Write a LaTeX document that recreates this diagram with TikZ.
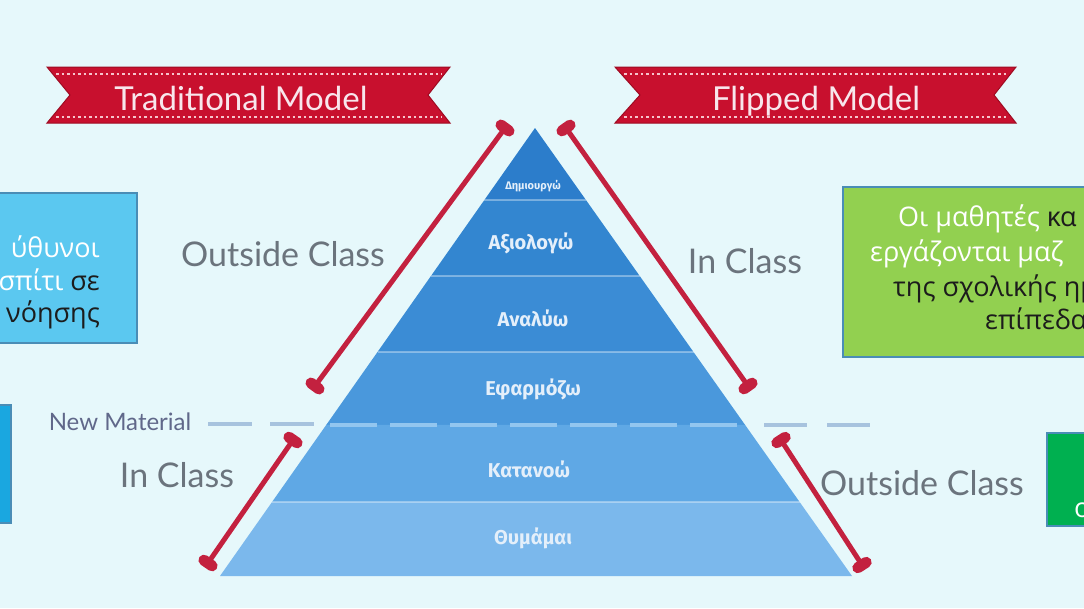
\documentclass[tikz,border=0pt]{standalone}
\usepackage{fontspec}
\setmainfont{Lato}
\newfontfamily\boxfont{Open Sans}
\newfontfamily\levelfont{Fira Sans}
\usetikzlibrary{calc}

\definecolor{paper}{HTML}{E6F8FB}
\definecolor{ribbonred}{HTML}{C8102E}
\definecolor{ribbondark}{HTML}{9E0B22}
\definecolor{stitchpink}{HTML}{F6C4CC}
\definecolor{ribbontxt}{HTML}{F8E6EC}
\definecolor{labelgray}{HTML}{6B747D}
\definecolor{bonered}{HTML}{C3213F}
\definecolor{lvA}{HTML}{2C7DCB}
\definecolor{lvB}{HTML}{3386D0}
\definecolor{lvC}{HTML}{3B8CD5}
\definecolor{lvD}{HTML}{4A98DC}
\definecolor{lvE}{HTML}{5FA8E5}
\definecolor{lvF}{HTML}{7BB8EC}
\definecolor{leveltxt}{HTML}{E4EFFA}
\definecolor{newmatblue}{HTML}{93C6EF}
\definecolor{newmatgray}{HTML}{A7C3DE}
\definecolor{boxblue}{HTML}{5BC8F0}
\definecolor{boxdeep}{HTML}{1AA7E0}
\definecolor{boxgreen}{HTML}{92D050}
\definecolor{boxdeepgreen}{HTML}{00B050}
\definecolor{boxedge}{HTML}{4A8DB6}
\definecolor{inkdark}{HTML}{1C1C1C}

\tikzset{
  lbl/.style={text=labelgray, font=\fontsize{34}{40}\selectfont, anchor=base, inner sep=0pt},
  ribbon/.style={fill=ribbonred, draw=ribbondark, line width=1pt},
  stitch/.style={draw=stitchpink, line width=1.8pt, dash pattern=on 2.5pt off 3pt},
  ribbontext/.style={text=ribbontxt, font=\fontsize{33}{40}\selectfont, anchor=base, inner sep=0pt},
  level/.style={text=leveltxt, font=\levelfont\bfseries\fontsize{20}{24}\selectfont, inner sep=0pt},
  divider/.style={draw=white, draw opacity=0.35, line width=2pt},
  bone/.style={draw=bonered, line width=5pt},
  bonecap/.style={draw=bonered, line width=11pt, line cap=round},
  infobox/.style={draw=boxedge, line width=1.5pt, inner sep=0pt},
  boxtxt/.style={font=\boxfont\fontsize{27}{32}\selectfont, inner sep=0pt, anchor=base west}
}

\begin{document}
\begin{tikzpicture}[x=1pt,y=-1pt]
  \fill[paper] (0,0) rectangle (1084,608);
  \useasboundingbox (0,0) rectangle (1084,608);
  \clip (0,0) rectangle (1084,608);

  % ribbons
  \draw[ribbon] (47,67) -- (450,67) -- (428,95) -- (450,123) -- (47,123) -- (70,95) -- cycle;
  \draw[stitch] (56,74) -- (442,74);
  \draw[stitch] (56,117) -- (442,117);
  \node[ribbontext] (trad) at (241,110) {Traditional Model};

  \draw[ribbon] (615,67) -- (1016,67) -- (994,95) -- (1016,123) -- (615,123) -- (640,95) -- cycle;
  \draw[stitch] (624,74) -- (1008,74);
  \draw[stitch] (624,117) -- (1008,117);
  \node[ribbontext] (flip) at (816,110) {Flipped Model};

  % pyramid
  \coordinate (apex) at (535,128);
  \coordinate (bl) at (220,576);
  \coordinate (br) at (852,576);
  \foreach \a/\b/\c in {0/0.1607/lvA, 0.1607/0.3304/lvB, 0.3304/0.5/lvC,
                        0.5/0.6629/lvD, 0.6629/0.8348/lvE, 0.8348/1/lvF}
    \fill[\c] ($(apex)!\a!(bl)$) -- ($(apex)!\b!(bl)$) -- ($(apex)!\b!(br)$) -- ($(apex)!\a!(br)$) -- cycle;
  \foreach \t in {0.1607,0.3304,0.5,0.8348}
    \draw[divider] ($(apex)!\t!(bl)$) -- ($(apex)!\t!(br)$);
  \draw[newmatblue, line width=4pt, dash pattern=on 47pt off 13pt, dash phase=-4pt]
    ($(apex)!0.6629!(bl)$) -- ($(apex)!0.6629!(br)$);

  \node[level, font=\levelfont\bfseries\fontsize{11}{13}\selectfont] (create) at (533,186) {Δημιουργώ};
  \node[level] (evaluate) at (531,243) {Αξιολογώ};
  \node[level] (analyse) at (533,318) {Αναλύω};
  \node[level] (apply) at (533,389) {Εφαρμόζω};
  \node[level] (understand) at (529,469) {Κατανοώ};
  \node[level] (remember) at (533,538) {Θυμάμαι};

  % new material line
  \coordinate (nmL1) at (208,424);
  \coordinate (nmL2) at (315,424);
  \coordinate (nmR1) at (764,425);
  \coordinate (nmR2) at (870,425);
  \draw[newmatgray, line width=4pt, dash pattern=on 44pt off 18pt] (nmL1) -- (nmL2);
  \draw[newmatgray, line width=4pt, dash pattern=on 43pt off 20pt] (nmR1) -- (nmR2);
  \node[lbl, font=\fontsize{24}{28}\selectfont, text=labelgray!90!blue] (newmat) at (120,430) {New Material};

  % red brackets
  \coordinate (tl1) at (505,128);
  \coordinate (tl2) at (315,386);
  \coordinate (tr1) at (566,128);
  \coordinate (tr2) at (748,386);
  \coordinate (bl1) at (293,440);
  \coordinate (bl2) at (208,563);
  \coordinate (br1) at (781,440);
  \coordinate (br2) at (862,565);
  \foreach \s/\e in {tl1/tl2, tr1/tr2, bl1/bl2, br1/br2} {
    \draw[bone] (\s) -- (\e);
    \draw[bonecap] ($(\s)!5pt!90:(\e)$) -- ($(\s)!5pt!-90:(\e)$);
    \draw[bonecap] ($(\e)!5pt!90:(\s)$) -- ($(\e)!5pt!-90:(\s)$);
  }

  \node[lbl] (outA) at (283,266) {Outside Class};
  \node[lbl] (inA) at (745,273) {In Class};
  \node[lbl] (inB) at (177,487) {In Class};
  \node[lbl] (outB) at (922,495) {Outside Class};

  % side boxes
  \node[infobox, fill=boxblue, minimum width=147pt, minimum height=150pt] (boxL) at (63.5,268) {};
  \node[boxtxt, anchor=base east, text=white] (l1) at (100,257) {ύθυνοι};
  \node[boxtxt, anchor=base east] (l2) at (100,290) {\textcolor{white}{σπίτι} \textcolor{inkdark}{σε}};
  \node[boxtxt, anchor=base east, text=inkdark] (l3) at (100,322) {νόησης};

  \node[infobox, fill=boxdeep, minimum width=21pt, minimum height=118pt] (boxLL) at (0.5,464) {};

  \node[infobox, fill=boxgreen, minimum width=267pt, minimum height=170pt] (boxR) at (976.5,272) {};
  \node[boxtxt] (r1) at (898,226) {\textcolor{white}{Οι μαθητές} \textcolor{inkdark}{κα}};
  \node[boxtxt, text=white] (r2) at (870,261) {εργάζονται μαζ};
  \node[boxtxt, text=inkdark] (r3) at (893,296) {της σχολικής ημ};
  \node[boxtxt, text=inkdark] (r4) at (985,329) {επίπεδα};

  \node[infobox, fill=boxdeepgreen, minimum width=63pt, minimum height=93pt] (boxRL) at (1078.5,479.5) {};
  \node[boxtxt, text=white] (rl1) at (1074,517) {ο};
\end{tikzpicture}
\end{document}
